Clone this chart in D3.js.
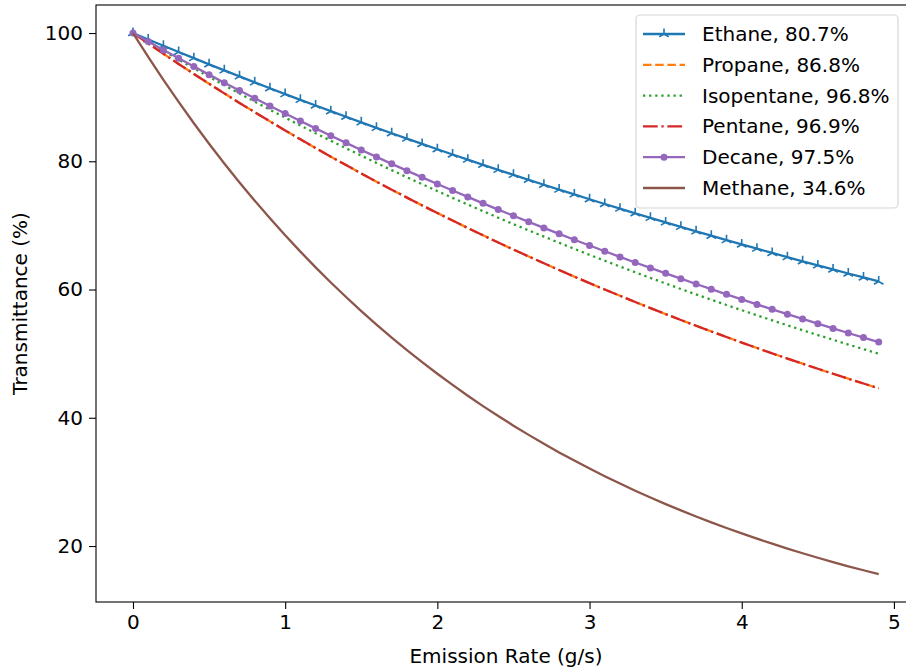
<!DOCTYPE html>
<html><head><meta charset="utf-8">
<script src="https://cdn.jsdelivr.net/npm/d3@7"></script>
<style>
body{margin:0;background:#fff;}
svg{display:block;font-family:"DejaVu Sans",sans-serif;}
</style></head>
<body><svg id="chart" width="906" height="670"></svg>
<script>
const emissionRate = [0,0.1,0.2,0.3,0.4,0.5,0.6,0.7,0.8,0.9,1,1.1,1.2,1.3,1.4,1.5,1.6,1.7,1.8,1.9,2,2.1,2.2,2.3,2.4,2.5,2.6,2.7,2.8,2.9,3,3.1,3.2,3.3,3.4,3.5,3.6,3.7,3.8,3.9,4,4.1,4.2,4.3,4.4,4.5,4.6,4.7,4.8,4.9];
const ethane = [100,99.00,98.02,97.04,96.08,95.12,94.18,93.24,92.31,91.39,90.48,89.58,88.69,87.81,86.94,86.07,85.21,84.37,83.53,82.70,81.87,81.06,80.25,79.45,78.66,77.88,77.11,76.34,75.58,74.83,74.08,73.34,72.61,71.89,71.18,70.47,69.77,69.07,68.39,67.70,67.03,66.37,65.70,65.05,64.40,63.76,63.13,62.50,61.88,61.26];
const propane = [100,98.37,96.76,95.18,93.62,92.09,90.59,89.10,87.65,86.22,84.81,83.42,82.06,80.72,79.40,78.10,76.82,75.57,74.33,73.12,71.92,70.75,69.59,68.45,67.33,66.23,65.15,64.09,63.04,62.01,60.99,60.00,59.02,58.05,57.10,56.17,55.25,54.35,53.46,52.59,51.73,50.88,50.05,49.23,48.43,47.64,46.86,46.09,45.34,44.60];
const isopentane = [100,98.60,97.21,95.84,94.50,93.17,91.86,90.57,89.30,88.04,86.81,85.58,84.38,83.20,82.03,80.88,79.74,78.62,77.51,76.43,75.35,74.29,73.25,72.22,71.20,70.20,69.22,68.25,67.29,66.34,65.41,64.49,63.58,62.69,61.81,60.94,60.08,59.24,58.41,57.59,56.78,55.98,55.19,54.42,53.65,52.90,52.16,51.42,50.70,49.99];
const pentane = [100,98.37,96.76,95.18,93.62,92.09,90.59,89.10,87.65,86.22,84.81,83.42,82.06,80.72,79.40,78.10,76.82,75.57,74.33,73.12,71.92,70.75,69.59,68.45,67.33,66.23,65.15,64.09,63.04,62.01,60.99,60.00,59.02,58.05,57.10,56.17,55.25,54.35,53.46,52.59,51.73,50.88,50.05,49.23,48.43,47.64,46.86,46.09,45.34,44.60];
const decane = [100,98.67,97.35,96.05,94.77,93.51,92.26,91.03,89.82,88.62,87.44,86.28,85.13,83.99,82.87,81.77,80.68,79.60,78.54,77.49,76.46,75.44,74.44,73.44,72.46,71.50,70.55,69.61,68.68,67.76,66.86,65.97,65.09,64.22,63.37,62.52,61.69,60.86,60.05,59.25,58.46,57.68,56.91,56.16,55.41,54.67,53.94,53.22,52.51,51.81];
const methane = [100,96.28,92.70,89.25,85.93,82.74,79.66,76.70,73.85,71.10,68.45,65.91,63.46,61.10,58.83,56.64,54.53,52.50,50.55,48.67,46.86,45.12,43.44,41.82,40.27,38.77,37.33,35.94,34.60,33.32,32.08,30.88,29.74,28.63,27.57,26.54,25.55,24.60,23.69,22.81,21.96,21.14,20.36,19.60,18.87,18.17,17.49,16.84,16.22,15.61];
const seriesNames = ["Ethane, 80.7%","Propane, 86.8%","Isopentane, 96.8%","Pentane, 96.9%","Decane, 97.5%","Methane, 34.6%"];
const seriesValues = [ethane, propane, isopentane, pentane, decane, methane];
const xTicks = [0,1,2,3,4,5];
const yTicks = [20,40,60,80,100];

const colors = ["#1f77b4","#ff7f0e","#2ca02c","#d62728","#9467bd","#8c564b"];
const lw = 2.3;
const dashes = [null, `${3.7*lw},${1.6*lw}`, `${1*lw},${1.65*lw}`, `${6.4*lw},${1.6*lw},${1*lw},${1.6*lw}`, null, null];
const markers = ["tri", null, null, null, "dot", null];

const svg = d3.select("#chart");
const L = 96, R = 916, T = 5, B = 602;
const x = d3.scaleLinear().domain([-0.243, 5.145]).range([L, R]);
const y = d3.scaleLinear().domain([11.27, 104.37]).range([B, T]);
const fs = 20;

const gx = svg.append("g").attr("transform", `translate(0,${B})`)
  .call(d3.axisBottom(x).tickValues(xTicks).tickFormat(d3.format("d")).tickSize(7).tickPadding(6));
const gy = svg.append("g").attr("transform", `translate(${L},0)`)
  .call(d3.axisLeft(y).tickValues(yTicks).tickFormat(d3.format("d")).tickSize(7).tickPadding(6));
[gx, gy].forEach(g => {
  g.select(".domain").remove();
  g.selectAll(".tick line").attr("stroke", "#000").attr("stroke-width", 1.1);
  g.selectAll(".tick text").attr("fill", "#000").style("font-size", fs + "px").style("font-family", "DejaVu Sans");
});
// frame
svg.append("rect").attr("x", L).attr("y", T).attr("width", R - L).attr("height", B - T)
  .attr("fill", "none").attr("stroke", "#000").attr("stroke-width", 1.1);

const plot = svg.append("g");
const line = d3.line().x((d, i) => x(emissionRate[i])).y(d => y(d));

function triPath(r) {
  const a = r * 0.866, b = r * 0.5;
  return `M0,0L0,${-r}M0,0L${-a},${b}M0,0L${a},${b}`;
}

seriesValues.forEach((vals, k) => {
  plot.append("path").datum(vals).attr("d", line)
    .attr("fill", "none").attr("stroke", colors[k]).attr("stroke-width", lw)
    .attr("stroke-dasharray", dashes[k]);
  if (markers[k] === "tri") {
    plot.append("g").selectAll("path").data(vals).join("path")
      .attr("transform", (d, i) => `translate(${x(emissionRate[i])},${y(d)})`)
      .attr("d", triPath(5.5)).attr("stroke", colors[k]).attr("stroke-width", 1.6).attr("fill", "none");
  } else if (markers[k] === "dot") {
    plot.append("g").selectAll("circle").data(vals).join("circle")
      .attr("cx", (d, i) => x(emissionRate[i])).attr("cy", d => y(d)).attr("r", 3.5)
      .attr("fill", colors[k]);
  }
});

// legend
const lg = svg.append("g");
lg.append("rect").attr("x", 636).attr("y", 15).attr("width", 262).attr("height", 193)
  .attr("rx", 4).attr("fill", "#fff").attr("fill-opacity", 0.85).attr("stroke", "#d6d6d6").attr("stroke-width", 1.2);
seriesNames.forEach((name, k) => {
  const cy = 34 + k * 30.8;
  lg.append("line").attr("x1", 643).attr("x2", 685).attr("y1", cy).attr("y2", cy)
    .attr("stroke", colors[k]).attr("stroke-width", lw).attr("stroke-dasharray", dashes[k]);
  if (markers[k] === "tri") {
    lg.append("path").attr("transform", `translate(664,${cy})`).attr("d", triPath(5.5))
      .attr("stroke", colors[k]).attr("stroke-width", 1.6).attr("fill", "none");
  } else if (markers[k] === "dot") {
    lg.append("circle").attr("cx", 664).attr("cy", cy).attr("r", 3.5).attr("fill", colors[k]);
  }
  lg.append("text").attr("x", 702).attr("y", cy).attr("dy", "0.35em")
    .style("font-size", fs + "px").text(name);
});

svg.append("text").attr("x", (L + R) / 2).attr("y", 663).attr("text-anchor", "middle")
  .style("font-size", fs + "px").text("Emission Rate (g/s)");
svg.append("text").attr("transform", `translate(27,${(T + B) / 2}) rotate(-90)`).attr("text-anchor", "middle")
  .style("font-size", fs + "px").text("Transmittance (%)");
</script></body></html>
